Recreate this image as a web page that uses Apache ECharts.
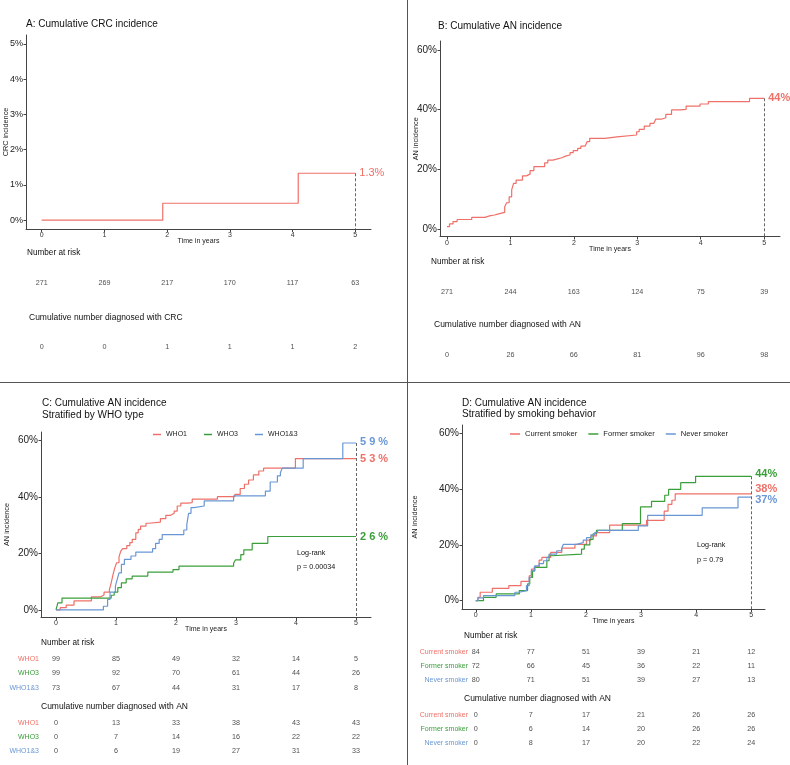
<!DOCTYPE html>
<html><head><meta charset="utf-8">
<script src="https://cdn.jsdelivr.net/npm/echarts@6/dist/echarts.min.js"></script>
<style>html,body{margin:0;padding:0;background:#fff}#c{width:790px;height:765px}</style>
</head><body><div id="c"></div>
<script>
// ---------- DATA ----------
const yearTicks = [0, 1, 2, 3, 4, 5];
const crcYTicks = [0, 1, 2, 3, 4, 5];
const anYTicks = [0, 20, 40, 60];

// Panel A: cumulative CRC incidence (%)
const crcTime = [0, 1.93, 4.09, 5];
const crcPct  = [0, 0.48, 1.33, 1.33];
const crcRisk = [271, 269, 217, 170, 117, 63];
const crcCum  = [0, 0, 1, 1, 1, 2];

// Panel B: cumulative AN incidence (%)
const anTime = [0,0.04,0.095,0.16,0.39,0.6,0.67,0.75,0.8,0.91,0.94,0.98,1.02,1.05,1.09,1.19,1.25,1.31,1.37,1.54,1.59,1.67,1.73,1.81,1.88,1.94,1.99,2.06,2.11,2.18,2.21,2.25,2.49,2.68,2.99,3.03,3.11,3.20,3.26,3.29,3.38,3.45,3.54,3.68,3.77,3.99,4.12,4.77,5];
const anPct  = [0.8,1.7,2.5,3.2,3.9,4.4,4.7,5.0,5.6,7.5,8.8,10.8,13.1,15.3,16.4,17.8,18.4,19.6,20.9,22.2,23.1,23.4,23.9,24.5,24.8,25.6,26.3,27.0,27.8,28.2,29.3,30.4,30.9,31.5,32.6,33.4,34.5,35.4,36.0,36.8,37.3,38.4,39.9,40.1,41.2,41.9,42.7,43.8,43.8];
const anRisk = [271, 244, 163, 124, 75, 39];
const anCum  = [0, 26, 66, 81, 96, 98];

// Panel C: by WHO type
const whoGroups = ['WHO1', 'WHO3', 'WHO1&3'];
const who1Time = [0,0.07,0.17,0.30,0.59,0.74,0.80,0.89,0.92,0.95,0.98,1.01,1.05,1.08,1.11,1.18,1.23,1.27,1.33,1.37,1.41,1.50,1.55,1.74,1.83,1.91,1.97,2.02,2.08,2.19,2.27,2.69,2.98,3.07,3.14,3.21,3.29,3.38,3.46,3.99,5];
const who1Pct  = [0,0.8,1.7,3.2,4.6,5.3,6.3,7.2,9.6,12.5,14.9,16.7,18.8,20.8,21.7,22.8,23.8,25.0,27.3,28.5,29.7,30.7,31.1,32.3,33.5,34.2,35.0,36.8,37.8,38.0,39.2,40.1,40.9,43.0,44.5,46.0,47.8,49.2,50.2,53.6,53.6];
const who3Time = [0,0.03,0.10,0.92,0.97,1.03,1.09,1.17,1.27,1.53,1.95,2.05,2.96,2.99,3.08,3.13,3.27,3.53,5];
const who3Pct  = [0,2.5,4.2,5.2,6.3,7.9,9.6,11.0,12.0,13.4,14.3,15.5,16.5,17.7,19.6,21.3,23.6,26.0,26.0];
const who13Time = [0,0.79,0.86,0.90,0.99,1.02,1.05,1.09,1.14,1.25,1.33,1.61,1.66,1.72,1.77,2.13,2.18,2.21,2.25,2.30,2.47,2.96,3.49,3.57,3.69,3.74,3.77,4.12,4.78,5];
const who13Pct  = [0,1.3,3.7,6.3,8.4,10.8,13.1,16.1,17.9,19.1,20.5,21.7,23.6,25.0,26.7,28.3,30.3,34.2,36.2,36.8,38.6,40.4,42.1,45.3,47.5,48.6,50.2,53.6,59.1,59.1];
const whoEndLabels = ['5 3 %', '2 6 %', '5 9 %'];
const whoRisk = [[99,85,49,32,14,5],[99,92,70,61,44,26],[73,67,44,31,17,8]];
const whoCum  = [[0,13,33,38,43,43],[0,7,14,16,22,22],[0,6,19,27,31,33]];

// Panel D: by smoking behaviour
const smokeGroups = ['Current smoker', 'Former smoker', 'Never smoker'];
const curTime = [0,0.04,0.08,0.30,0.60,0.82,0.97,1.01,1.06,1.15,1.20,1.36,1.56,1.80,2.01,2.09,2.19,2.43,3.10,3.42,3.49,3.56,3.62,5];
const curPct  = [0,1.2,3.0,4.4,5.4,6.9,8.9,11.3,12.1,14.5,15.5,17.3,18.8,20.2,21.7,23.2,24.4,27.1,28.8,32.1,34.5,36.0,38.3,38.3];
const forTime = [0,0.14,0.37,0.79,0.94,0.98,1.03,1.07,1.29,1.33,1.38,1.92,1.97,2.07,2.13,2.19,2.66,2.99,3.19,3.43,3.50,3.72,3.99,5];
const forPct  = [0,1.2,2.4,3.6,6.0,8.3,10.7,11.9,14.3,16.1,16.7,18.5,20.0,22.0,24.0,25.2,27.6,33.6,35.6,37.8,39.9,42.3,44.6,44.6];
const nevTime = [0,0.04,0.14,0.71,0.79,0.92,0.97,1.01,1.07,1.15,1.23,1.29,1.33,1.47,1.56,1.59,1.83,1.95,2.01,2.09,2.16,2.21,2.95,3.12,4.11,4.76,5];
const nevPct  = [0,1.0,1.8,3.0,3.6,5.4,8.3,10.7,12.5,13.3,14.3,15.5,16.7,17.9,18.8,20.2,20.8,21.7,22.6,23.6,24.4,25.2,26.8,30.6,33.3,37.1,37.1];
const smokeEndLabels = ['38%', '44%', '37%'];
const smokeRisk = [[84,77,51,39,21,12],[72,66,45,36,22,11],[80,71,51,39,27,13]];
const smokeCum  = [[0,7,17,21,26,26],[0,6,14,20,26,26],[0,8,17,20,22,24]];

// ---------- STYLE ----------
const FONT = "'Liberation Sans', Arial, Helvetica, sans-serif";
const RED = '#EF7068', GREEN = '#3A9F3A', BLUE = '#6A97D4';
const AX = '#444';

const panels = [
  { grid:{left:26, right:419, top:35, height:194}, xMin:-0.25, xMax:5.25, yMin:-0.25, yMax:5.25,
    yTicks: crcYTicks, yName:'CRC incidence', yNameX:5, yLabelSize:9,
    curves:[{name:'CRC', t:crcTime, v:crcPct, color:RED, label:'1.3%', bold:false, dy:0}],
    risk:{top:276, height:14, rows:['all'], vals:[crcRisk]}, cum:{top:340, height:14, rows:['all'], vals:[crcCum]},
    rowColors:null },
  { grid:{left:440, right:10, top:41, height:195.5}, xMin:-0.11, xMax:5.25, yMin:-2.5, yMax:63,
    yTicks: anYTicks, yName:'AN incidence', yNameX:415, yLabelSize:10,
    curves:[{name:'AN', t:anTime, v:anPct, color:RED, label:'44%', bold:true, dy:0}],
    risk:{top:285, height:14, rows:['all'], vals:[anRisk]}, cum:{top:348, height:14, rows:['all'], vals:[anCum]},
    rowColors:null },
  { grid:{left:41, right:419, top:432, height:185}, xMin:-0.25, xMax:5.25, yMin:-2.5, yMax:63,
    yTicks: anYTicks, yName:'AN incidence', yNameX:6, yLabelSize:10,
    curves:[
      {name:whoGroups[0], t:who1Time, v:who1Pct, color:RED, label:whoEndLabels[0], bold:true, dy:0},
      {name:whoGroups[1], t:who3Time, v:who3Pct, color:GREEN, label:whoEndLabels[1], bold:true, dy:0},
      {name:whoGroups[2], t:who13Time, v:who13Pct, color:BLUE, label:whoEndLabels[2], bold:true, dy:-1}],
    risk:{top:652, height:43, rows:whoGroups, vals:whoRisk}, cum:{top:716, height:42, rows:whoGroups, vals:whoCum},
    rowColors:[RED, GREEN, BLUE], rowLabelMargin:2 },
  { grid:{left:462, right:25, top:425, height:184}, xMin:-0.25, xMax:5.25, yMin:-3, yMax:63,
    yTicks: anYTicks, yName:'AN incidence', yNameX:414, yLabelSize:10,
    curves:[
      {name:smokeGroups[0], t:curTime, v:curPct, color:RED, label:smokeEndLabels[0], bold:true, dy:-5},
      {name:smokeGroups[1], t:forTime, v:forPct, color:GREEN, label:smokeEndLabels[1], bold:true, dy:-2},
      {name:smokeGroups[2], t:nevTime, v:nevPct, color:BLUE, label:smokeEndLabels[2], bold:true, dy:3}],
    risk:{top:645, height:42, rows:smokeGroups, vals:smokeRisk}, cum:{top:708, height:42, rows:smokeGroups, vals:smokeCum},
    rowColors:[RED, GREEN, BLUE], rowLabelMargin:-6 }
];

const grids = [], xAxes = [], yAxes = [], series = [];

panels.forEach((p, pi) => {
  const gi = grids.length;
  grids.push(Object.assign({containLabel:false, outerBoundsMode:'none'}, p.grid));
  xAxes.push({
    gridIndex: gi, type:'value', min:p.xMin, max:p.xMax,
    name:'Time in years', nameLocation:'middle', nameGap:9, nameMoveOverlap:false,
    nameTextStyle:{fontSize:7, color:'#222', fontFamily:FONT},
    axisLine:{show:true, onZero:false, lineStyle:{color:AX, width:1}},
    axisTick:{show:true, length:3, customValues:yearTicks, lineStyle:{color:AX}},
    axisLabel:{show:true, customValues:yearTicks, fontSize:7, margin:3, color:'#333', fontFamily:FONT},
    splitLine:{show:false}
  });
  const nameGap = p.grid.left - p.yNameX - 4;
  yAxes.push({
    gridIndex: gi, type:'value', min:p.yMin, max:p.yMax,
    name:p.yName, nameLocation:'middle', nameRotate:90, nameGap:nameGap, nameMoveOverlap:false,
    nameTextStyle:{fontSize:7.3, color:'#222', fontFamily:FONT},
    axisLine:{show:true, onZero:false, lineStyle:{color:AX, width:1}},
    axisTick:{show:true, length:2.5, customValues:p.yTicks, lineStyle:{color:AX}},
    axisLabel:{show:true, customValues:p.yTicks, formatter: v => v + '%', fontSize:p.yLabelSize, margin:3, color:'#222', fontFamily:FONT},
    splitLine:{show:false}
  });
  let topIdx = 0, topVal = -1;
  p.curves.forEach((c, ci) => { const f = c.v[c.v.length - 1]; if (f > topVal) { topVal = f; topIdx = ci; } });
  p.curves.forEach((c, ci) => {
    const s = {
      type:'line', name:c.name, xAxisIndex:gi, yAxisIndex:gi,
      data: c.t.map((t, i) => [t, c.v[i]]),
      step:'end', symbol:'none', showSymbol:false, animation:false,
      lineStyle:{color:c.color, width:1.2}, itemStyle:{color:c.color},
      endLabel:{show:true, formatter:c.label, color:c.color, fontSize:11, fontWeight:c.bold ? 'bold' : 'normal',
        distance:4, offset:[0, c.dy], fontFamily:FONT},
      labelLayout:{hideOverlap:false},
      z: 3
    };
    if (ci === topIdx) {
      const last = yearTicks[yearTicks.length - 1];
      s.markLine = {
        silent:true, symbol:['none','none'], animation:false,
        lineStyle:{type:[3,2], color:'#666', width:1}, label:{show:false},
        data:[[{coord:[last, topVal]}, {coord:[last, p.yMin]}]]
      };
    }
    series.push(s);
  });
  [p.risk, p.cum].forEach((tb, ti) => {
    const tg = grids.length;
    grids.push({left:p.grid.left, right:p.grid.right, top:tb.top, height:tb.height, containLabel:false, outerBoundsMode:'none'});
    xAxes.push({gridIndex:tg, type:'value', min:p.xMin, max:p.xMax, show:false});
    yAxes.push({
      gridIndex:tg, type:'category', data:tb.rows, inverse:true,
      axisLine:{show:false}, axisTick:{show:false}, splitLine:{show:false},
      axisLabel:{show: !!p.rowColors, fontSize:7, margin:p.rowLabelMargin || 2, fontFamily:FONT,
        color: (val, idx) => p.rowColors ? p.rowColors[idx] : '#333'}
    });
    const data = [];
    tb.rows.forEach((r, ri) => tb.vals[ri].forEach((n, k) => data.push([yearTicks[k], r, n])));
    series.push({
      type:'scatter', name:'table' + pi + '_' + ti, xAxisIndex:tg, yAxisIndex:tg,
      data, symbolSize:1, itemStyle:{color:'rgba(0,0,0,0)'}, animation:false, silent:true,
      labelLayout:{hideOverlap:false},
      label:{show:true, position:'inside', formatter: q => String(q.value[2]), fontSize:7.2, color:'#222', fontFamily:FONT}
    });
  });
});

function txt(x, y, s, size, extra) {
  return Object.assign({type:'text', x, y, silent:true,
    style:Object.assign({text:s, fill:'#111', font: size + 'px ' + FONT, textAlign:'left', textVerticalAlign:'middle'}, extra || {})});
}

const graphics = [
  {type:'line', shape:{x1:407.5, y1:0, x2:407.5, y2:765}, style:{stroke:'#555', lineWidth:1}, silent:true},
  {type:'line', shape:{x1:0, y1:382.5, x2:790, y2:382.5}, style:{stroke:'#555', lineWidth:1}, silent:true},
  txt(26, 24, 'A: Cumulative CRC incidence', 10),
  txt(27, 253, 'Number at risk', 8.2),
  txt(29, 318, 'Cumulative number diagnosed with CRC', 8.5),
  txt(438, 26, 'B: Cumulative AN incidence', 10),
  txt(431, 262, 'Number at risk', 8.2),
  txt(434, 325, 'Cumulative number diagnosed with AN', 8.5),
  txt(42, 403, 'C: Cumulative AN incidence', 10),
  txt(42, 415, 'Stratified by WHO type', 10),
  txt(41, 643, 'Number at risk', 8.2),
  txt(41, 707, 'Cumulative number diagnosed with AN', 8.5),
  txt(297, 553, 'Log-rank', 7.2),
  txt(297, 567, 'p = 0.00034', 7.2),
  txt(462, 403, 'D: Cumulative AN incidence', 10),
  txt(462, 414, 'Stratified by smoking behavior', 10),
  txt(464, 636, 'Number at risk', 8.2),
  txt(464, 699, 'Cumulative number diagnosed with AN', 8.5),
  txt(697, 545, 'Log-rank', 7.2),
  txt(697, 560, 'p = 0.79', 7.2)
];

const chart = echarts.init(document.getElementById('c'), null, {renderer:'canvas'});
chart.setOption({
  animation:false,
  backgroundColor:'#fff',
  textStyle:{fontFamily:FONT},
  grid:grids, xAxis:xAxes, yAxis:yAxes, series,
  legend:[
    {data:whoGroups, left:148, top:426, icon:'rect', itemWidth:8, itemHeight:1.5, itemGap:17,
     textStyle:{fontSize:7, color:'#222', fontFamily:FONT}, selectedMode:false},
    {data:smokeGroups, left:505, top:425, icon:'rect', itemWidth:10, itemHeight:1.5, itemGap:11,
     textStyle:{fontSize:7.6, color:'#222', fontFamily:FONT}, selectedMode:false}
  ],
  graphic:graphics
});
</script></body></html>
